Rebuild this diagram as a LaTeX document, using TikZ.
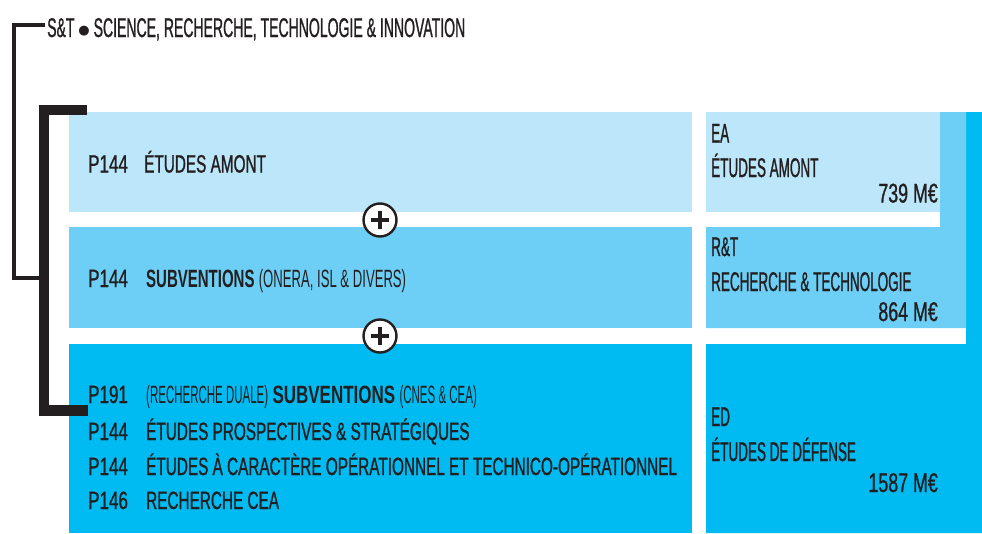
\documentclass[tikz,border=0pt]{standalone}
\usepackage{fontspec}
\setmainfont{Liberation Sans}
% condensed cuts of the same family
\newfontfamily\bodyfont{Liberation Sans}[FakeStretch=0.613, FakeBold=0.9]
\newfontfamily\codefont{Liberation Sans}[FakeStretch=0.68, FakeBold=0.9]
\newfontfamily\strongfont{Liberation Sans Bold}[FakeStretch=0.6]
\newfontfamily\strongwidefont{Liberation Sans Bold}[FakeStretch=0.68]
\newfontfamily\headfont{Liberation Sans}[FakeStretch=0.5, FakeBold=0.9]
\newfontfamily\sumfont{Liberation Sans}[FakeStretch=0.66, FakeBold=0.9]
\newfontfamily\titlefont{Liberation Sans}[FakeStretch=0.52, FakeBold=0.9]
\newfontfamily\notefont{Liberation Sans}[FakeStretch=0.525]
\newfontfamily\notenarrowfont{Liberation Sans}[FakeStretch=0.46]

\definecolor{ink}{HTML}{231F20}
\definecolor{paleblue}{HTML}{BCE6F9}
\definecolor{midblue}{HTML}{6DCFF5}
\definecolor{deepblue}{HTML}{00BBF1}

\newcommand{\bodysize}{\bodyfont\fontsize{25}{25}\selectfont}
\newcommand{\codesize}{\codefont\fontsize{25}{25}\selectfont}
\newcommand{\strongsize}{\strongfont\fontsize{25}{25}\selectfont}
\newcommand{\strongwidesize}{\strongwidefont\fontsize{25}{25}\selectfont}
\newcommand{\headsize}{\headfont\fontsize{27}{27}\selectfont}
\newcommand{\sumsize}{\sumfont\fontsize{27}{27}\selectfont}
\newcommand{\notesize}{\notefont\fontsize{25}{25}\selectfont}
\newcommand{\notenarrowsize}{\notenarrowfont\fontsize{25}{25}\selectfont}

\begin{document}
\begin{tikzpicture}[x=1pt,y=-1pt,
  band/.style={draw=none, inner sep=0pt, outer sep=0pt, anchor=north west},
  code/.style={anchor=base west, inner sep=0pt, text=ink, font=\codesize},
  item/.style={anchor=base west, inner sep=0pt, text=ink, font=\bodysize},
  head/.style={anchor=base west, inner sep=0pt, text=ink, font=\headsize},
  amount/.style={anchor=base east, inner sep=0pt, text=ink, font=\sumsize},
  plusmark/.style={circle, draw=ink, line width=2.4pt, fill=white,
    minimum size=33pt, inner sep=0pt},
  thinbracket/.style={draw=ink, line width=3.5pt, line join=miter},
  thickbracket/.style={draw=ink, line width=10.5pt, line join=miter}]
\useasboundingbox (0,0) rectangle (982,533);

% programme bands on the left
\node[band, fill=paleblue, minimum width=623pt, minimum height=100pt] (bandA) at (69,112) {};
\node[band, fill=midblue,  minimum width=623pt, minimum height=101pt] (bandB) at (69,227) {};
\node[band, fill=deepblue, minimum width=623pt, minimum height=189pt] (bandC) at (69,344) {};

% nested budget blocks on the right
\fill[deepblue] (706,344) -- (966,344) -- (966,112) -- (982,112) -- (982,533) -- (706,533) -- cycle;
\fill[midblue] (706,227) -- (940,227) -- (940,112) -- (966,112) -- (966,328) -- (706,328) -- cycle;
\node[band, fill=paleblue, minimum width=234pt, minimum height=100pt] (blockEA) at (706,112) {};

% title and brackets
\node[anchor=base west, inner sep=0pt, text=ink, font=\titlefont\fontsize{27}{27}\selectfont]
  (title) at (47,37) {S\&T {\fontspec{DejaVu Sans}\fontsize{13}{13}\selectfont\raisebox{2.5pt}{●}} SCIENCE, RECHERCHE, TECHNOLOGIE \& INNOVATION};
\coordinate (outerTop) at (45,25);
\coordinate (outerBottom) at (40,278);
\coordinate (innerTop) at (87,110);
\coordinate (innerBottom) at (88,410.5);
\draw[thinbracket] (outerTop) -- (14,25) |- (outerBottom);
\draw[thickbracket] (innerTop) -- (44,110) |- (innerBottom);

% band texts
\node[code] (codeA) at (88,172.5) {P144};
\node[item] (textA) at (144,172.5) {ÉTUDES AMONT};

\node[code] (codeB) at (88,287) {P144};
\node[item] (textB) at (146,287) {{\strongsize SUBVENTIONS} {\notesize(ONERA, ISL \& DIVERS)}};

\node[code] (codeC1) at (88,403) {P191};
\node[item] (textC1) at (146,403) {{\notenarrowsize(RECHERCHE DUALE)} {\strongwidesize SUBVENTIONS} {\notenarrowsize(CNES \& CEA)}};
\node[code] (codeC2) at (88,440) {P144};
\node[item] (textC2) at (146,440) {ÉTUDES PROSPECTIVES \& STRATÉGIQUES};
\node[code] (codeC3) at (88,475) {P144};
\node[item] (textC3) at (146,475) {ÉTUDES À CARACTÈRE OPÉRATIONNEL ET TECHNICO-OPÉRATIONNEL};
\node[code] (codeC4) at (88,509) {P146};
\node[item] (textC4) at (146,509) {RECHERCHE CEA};

% budget texts
\node[head] (ea) at (711,142.5) {EA};
\node[head] (eaName) at (711,177) {ÉTUDES AMONT};
\node[amount] (eaSum) at (938,202.5) {739 M€};

\node[head] (rt) at (711,256) {R\&T};
\node[head] (rtName) at (711,291) {RECHERCHE \& TECHNOLOGIE};
\node[amount] (rtSum) at (938,321) {864 M€};

\node[head] (ed) at (711,426) {ED};
\node[head] (edName) at (711,461) {ÉTUDES DE DÉFENSE};
\node[amount] (edSum) at (938,492) {1587 M€};

% plus signs between the bands
\node[plusmark] (plusAB) at (380,220) {};
\node[plusmark] (plusBC) at (380,336) {};
\foreach \p in {plusAB,plusBC}{
  \draw[ink, line width=4pt] ([xshift=-9pt]\p.center) -- ([xshift=9pt]\p.center);
  \draw[ink, line width=4pt] ([yshift=-9pt]\p.center) -- ([yshift=9pt]\p.center);
}
\end{tikzpicture}
\end{document}
